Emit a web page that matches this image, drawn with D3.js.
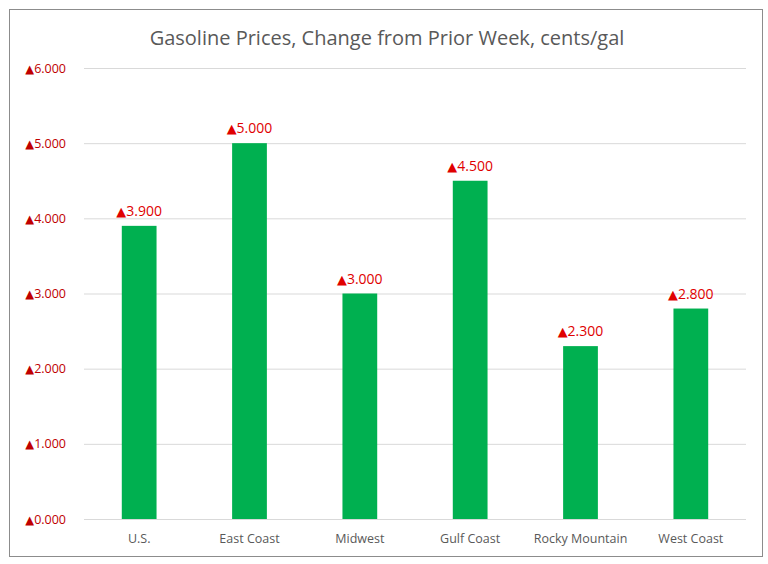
<!DOCTYPE html>
<html><head><meta charset="utf-8">
<script src="https://cdn.jsdelivr.net/npm/d3@7"></script>
<style>body{margin:0;background:#fff;}</style>
</head><body>
<svg id="c" width="768" height="564"></svg>
<script>
const categories = ["U.S.", "East Coast", "Midwest", "Gulf Coast", "Rocky Mountain", "West Coast"];
const values = [3.9, 5.0, 3.0, 4.5, 2.3, 2.8];
const yTicks = [0, 1, 2, 3, 4, 5, 6];
const title = "Gasoline Prices, Change from Prior Week, cents/gal";

const svg = d3.select("#c");
const font = "'Open Sans', 'Liberation Sans', sans-serif";
const triFont = "'DejaVu Sans', sans-serif";
svg.append("rect").attr("x", 9.5).attr("y", 9.5).attr("width", 753).attr("height", 547)
  .attr("fill", "#fff").attr("stroke", "#8c8c8c").attr("stroke-width", 1);

const x0 = 84, x1 = 746, yTop = 68, yBot = 519;
const x = d3.scaleBand().domain(categories).range([x0, x1]).paddingInner(0.685).paddingOuter(0.3425);
const y = d3.scaleLinear().domain([0, 6]).range([yBot, yTop]);
const fmt = d3.format(".3f");

function triLabel(sel, size) {
  sel.text(null);
  sel.append("tspan").attr("font-family", triFont).attr("font-size", size * 0.92).text("\u25B2");
  sel.append("tspan").text(d => fmt(d));
}

svg.append("text").attr("x", 387).attr("y", 45).attr("text-anchor", "middle")
  .attr("font-family", font).attr("font-size", 20).attr("fill", "#595959").text(title);

const yAxis = d3.axisLeft(y).tickValues(yTicks).tickSize(-(x1 - x0)).tickPadding(18)
  .tickFormat(d => fmt(d));
const gy = svg.append("g").attr("transform", `translate(${x0},0)`).call(yAxis);
gy.select(".domain").remove();
gy.selectAll(".tick line").attr("stroke", "#d9d9d9");
gy.selectAll(".tick text").attr("font-family", font).attr("font-size", 12.5).attr("fill", "#c00000")
  .each(function(d) { triLabel(d3.select(this), 12.5); });

const xAxis = d3.axisBottom(x).tickSize(0).tickPadding(15);
const gx = svg.append("g").attr("transform", `translate(0,${yBot})`).call(xAxis);
gx.select(".domain").remove();
gx.selectAll(".tick text").attr("font-family", font).attr("font-size", 12.5).attr("fill", "#595959");

svg.append("g").selectAll("rect").data(values).join("rect")
  .attr("x", (d, i) => x(categories[i])).attr("width", x.bandwidth())
  .attr("y", d => y(d)).attr("height", d => y(0) - y(d)).attr("fill", "#00b050");

svg.append("g").selectAll("text").data(values).join("text")
  .attr("x", (d, i) => x(categories[i]) + x.bandwidth() / 2)
  .attr("y", d => y(d) - 10).attr("text-anchor", "middle")
  .attr("font-family", font).attr("font-size", 14).attr("fill", "#e00000")
  .each(function(d) { triLabel(d3.select(this), 14); });
</script>
</body></html>
